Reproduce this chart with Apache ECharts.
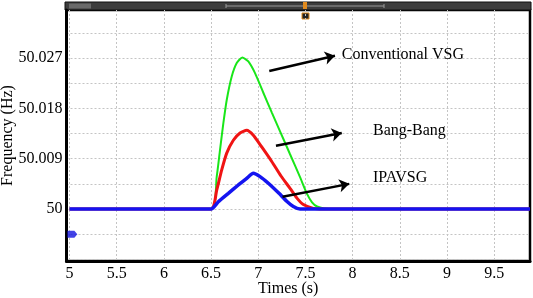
<!DOCTYPE html>
<html>
<head>
<meta charset="utf-8">
<script src="https://cdn.jsdelivr.net/npm/echarts@6/dist/echarts.min.js"></script>
<style>
  html, body { margin: 0; padding: 0; background: #fff; }
  #chart { width: 533px; height: 298px; }
</style>
</head>
<body>
<div id="chart"></div>
<script>
// frequency deviation from 50 Hz, in mHz (axis labels add 50 back)
const greenT = [5, 6.5, 6.56, 6.595, 6.63, 6.666, 6.719, 6.772, 6.831, 6.895, 6.966, 7.054, 7.143, 7.231, 7.337, 7.443, 7.517, 7.57, 7.623, 7.697, 7.813, 9.88];
const greenV = [0, 0, 5.8, 10.6, 15.3, 19.5, 23.7, 26.1, 27.1, 26.4, 24.3, 20.8, 17.3, 13.9, 9.8, 5.7, 2.7, 1.2, 0.45, 0.1, 0, 0];

const redT = [5, 6.5, 6.56, 6.613, 6.666, 6.736, 6.807, 6.878, 6.948, 7.037, 7.143, 7.241, 7.337, 7.408, 7.478, 7.584, 7.69, 9.88];
const redV = [0, 0, 3.4, 7.0, 10.0, 12.3, 13.6, 14.1, 13.2, 11.1, 8.5, 5.9, 3.7, 2.0, 0.8, 0.12, 0, 0];

const blueT = [5, 6.5, 6.577, 6.683, 6.789, 6.878, 6.948, 7.019, 7.107, 7.22, 7.302, 7.372, 7.443, 9.88];
const blueV = [0, 0, 1.3, 2.8, 4.3, 5.5, 6.4, 5.8, 4.6, 2.8, 1.4, 0.45, 0, 0];

const xTicks = [5, 5.5, 6, 6.5, 7, 7.5, 8, 8.5, 9, 9.5];
const yGrid = [-9, -4.5, 0, 4.5, 9, 13.5, 18, 22.5, 27, 31.5];
const yLabels = [0, 9, 18, 27];

const offsetMarker = [5.03, -4.5];

const pairs = (ts, vs) => ts.map((t, i) => [t, vs[i]]);

const chart = echarts.init(document.getElementById('chart'), null, { renderer: 'canvas' });

const font = '"Liberation Serif", "Times New Roman", serif';

const option = {
  animation: false,
  textStyle: { fontFamily: font },
  grid: {
    left: 66.5,
    right: 3,
    top: 10,
    bottom: 37,
    containLabel: false,
    outerBoundsMode: 'none',
    show: true,
    borderColor: '#000',
    borderWidth: 2.5
  },
  xAxis: {
    type: 'value',
    min: 4.968,
    max: 9.88,
    name: 'Times (s)',
    nameLocation: 'middle',
    nameGap: 20,
    nameMoveOverlap: false,
    nameTextStyle: { fontFamily: font, fontSize: 16, color: '#000', padding: [0, 20, 0, 0] },
    axisLine: { show: true, onZero: false, lineStyle: { color: '#000', width: 3 } },
    axisTick: { show: false, customValues: xTicks },
    axisLabel: {
      customValues: xTicks,
      fontFamily: font, fontSize: 16, color: '#000', margin: 5,
      formatter: v => String(v)
    },
    splitLine: { show: true, lineStyle: { color: '#c4c4c4', type: [2, 2], width: 1 } }
  },
  yAxis: {
    type: 'value',
    min: -9.3,
    max: 35.6,
    name: 'Frequency (Hz)',
    nameLocation: 'middle',
    nameGap: 51,
    nameMoveOverlap: false,
    nameTextStyle: { fontFamily: font, fontSize: 16, color: '#000' },
    axisLine: { show: true, onZero: false, lineStyle: { color: '#000', width: 3 } },
    axisTick: { show: false, customValues: yGrid },
    axisLabel: {
      customValues: yLabels,
      fontFamily: font, fontSize: 16, color: '#000', margin: 4,
      formatter: v => v === 0 ? '50' : (50 + v / 1000).toFixed(3)
    },
    splitLine: { show: true, lineStyle: { color: '#c4c4c4', type: [2, 2], width: 1 } }
  },
  series: [
    {
      name: 'Conventional VSG',
      type: 'line',
      data: pairs(greenT, greenV),
      showSymbol: false,
      smooth: 0.2,
      lineStyle: { color: '#19e619', width: 2 }
    },
    {
      name: 'Bang-Bang',
      type: 'line',
      data: pairs(redT, redV),
      showSymbol: false,
      smooth: 0.2,
      lineStyle: { color: '#f01414', width: 3 }
    },
    {
      name: 'IPAVSG',
      type: 'line',
      data: pairs(blueT, blueV),
      showSymbol: false,
      smooth: 0.2,
      lineStyle: { color: '#1414f0', width: 3.5 },
      markLine: {
        silent: true,
        symbol: ['none', 'arrow'],
        symbolSize: 10,
        lineStyle: { color: '#000', width: 2.5, type: 'solid' },
        label: { show: false },
        data: [
          [{ coord: [7.117, 24.7] }, { coord: [7.813, 27.4] }],
          [{ coord: [7.188, 11.3] }, { coord: [7.885, 13.6] }],
          [{ coord: [7.257, 2.2] }, { coord: [7.965, 4.5] }]
        ]
      },
      markPoint: {
        silent: true,
        symbolSize: 0,
        label: {
          show: true,
          position: 'right',
          distance: 0,
          fontFamily: font,
          fontSize: 16,
          color: '#000',
          formatter: p => p.name
        },
        data: [
          { name: 'Conventional VSG', coord: [7.885, 27.5] },
          { name: 'Bang-Bang', coord: [8.216, 14.0] },
          { name: 'IPAVSG', coord: [8.216, 5.5] }
        ]
      }
    },
    {
      type: 'scatter',
      data: [offsetMarker],
      symbol: 'path://M0,0 L7,0 L10,3.5 L7,7 L0,7 Z',
      symbolSize: [10, 7],
      itemStyle: { color: '#1414e0' },
      silent: true
    }
  ],
  graphic: [
    { type: 'rect', shape: { x: 65, y: 2, width: 466, height: 8 }, style: { fill: '#3d3d3d', stroke: '#111', lineWidth: 1 } },
    { type: 'rect', shape: { x: 69, y: 3.5, width: 22, height: 5 }, style: { fill: '#6a6a6a' } },
    { type: 'line', shape: { x1: 226, y1: 6, x2: 384, y2: 6 }, style: { stroke: '#9a9a9a', lineWidth: 1 } },
    { type: 'line', shape: { x1: 226, y1: 4, x2: 226, y2: 8 }, style: { stroke: '#9a9a9a', lineWidth: 1 } },
    { type: 'line', shape: { x1: 384, y1: 4, x2: 384, y2: 8 }, style: { stroke: '#9a9a9a', lineWidth: 1 } },
    { type: 'rect', shape: { x: 303, y: 2, width: 4, height: 7 }, style: { fill: '#e08a1e' } },
    { type: 'rect', shape: { x: 302, y: 13, width: 7, height: 6 }, style: { fill: '#222', stroke: '#e08a1e', lineWidth: 1 } }
  ]
};

chart.setOption(option);
</script>
</body>
</html>
